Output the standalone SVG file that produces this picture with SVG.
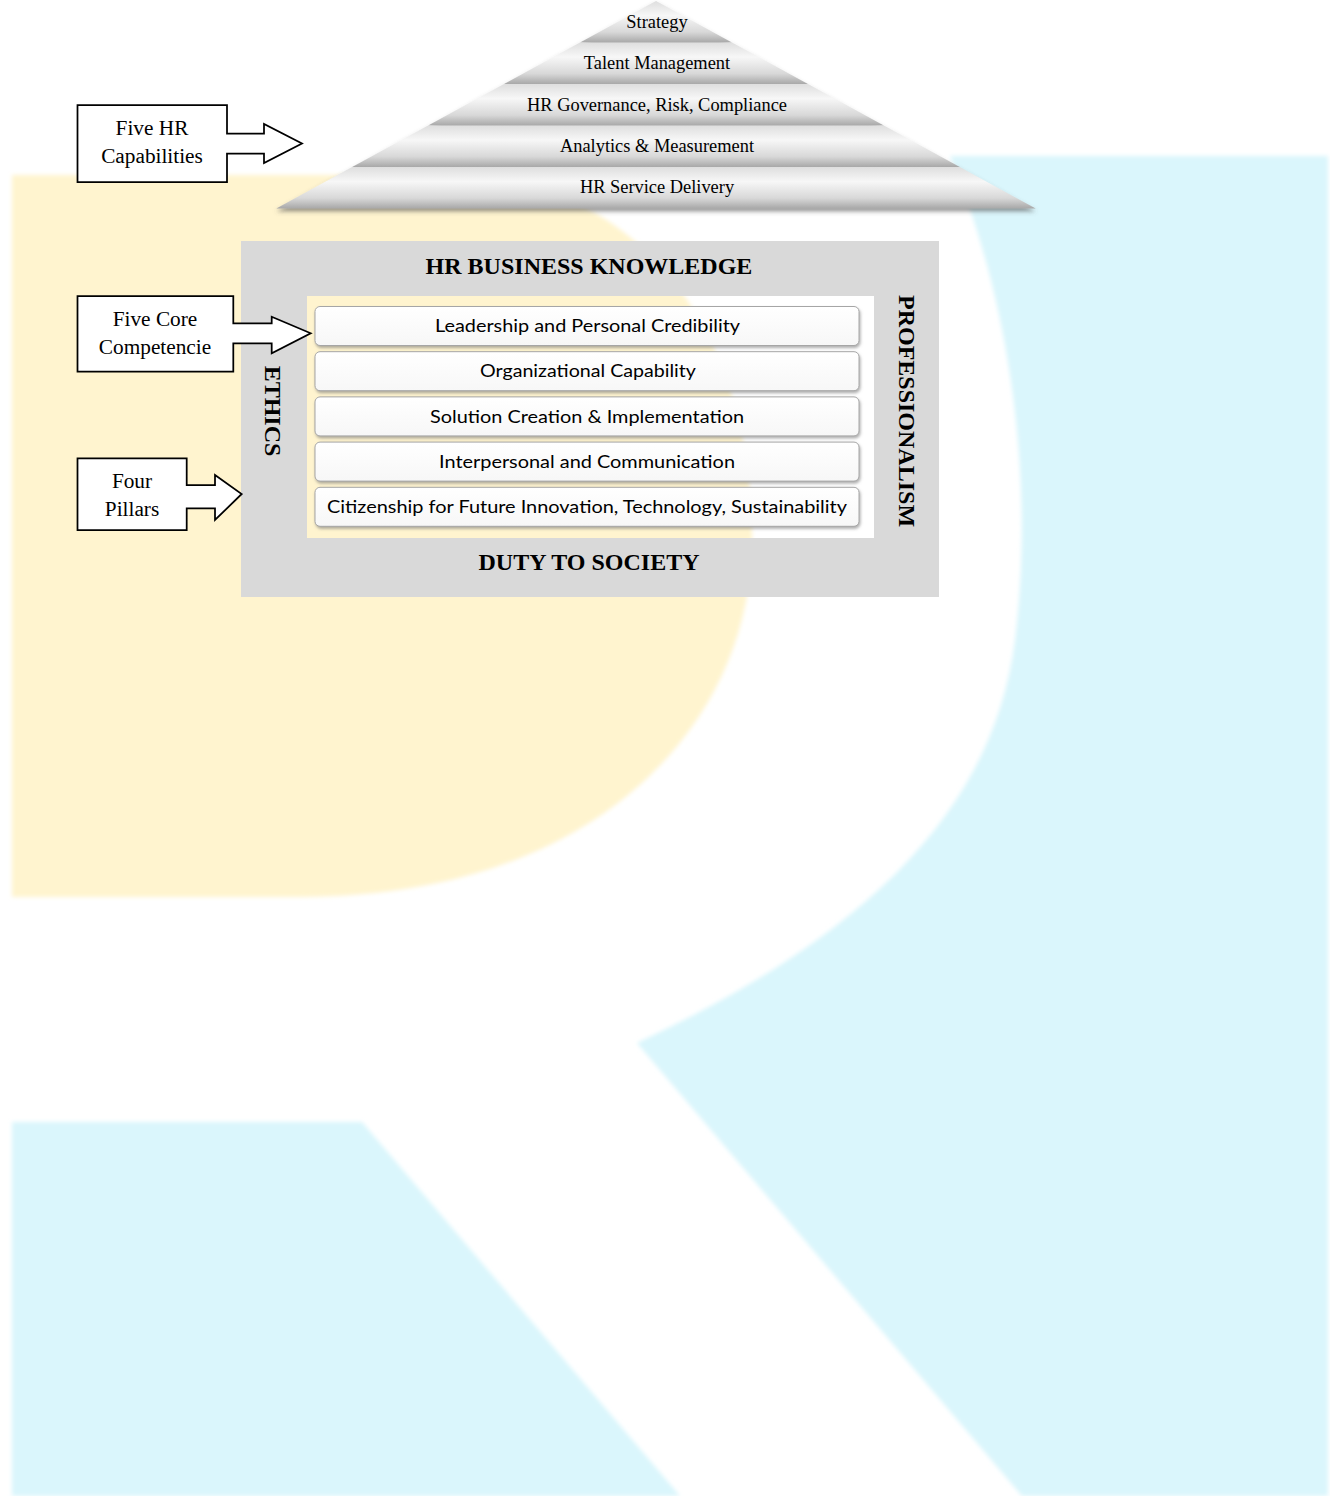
<svg xmlns="http://www.w3.org/2000/svg" width="1330" height="1496" viewBox="0 0 1330 1496">
  <style>
    .serif { font-family: "Liberation Serif", "Times New Roman", serif; fill: #000; }
    .pyr { font-size: 18.4px; text-anchor: middle; }
    .lbl { font-size: 21.3px; text-anchor: middle; }
    .bold { font-size: 24px; font-weight: bold; text-anchor: middle; }
    .row { font-family: Lato, "Open Sans", "Liberation Sans", sans-serif; font-size: 17.3px; text-anchor: middle; fill: #000; }
    .band { fill: url(#bandGrad); }
    .callout { fill: #fff; stroke: #000; stroke-width: 1.75; stroke-linejoin: miter; }
    .rowbox { fill: url(#rowGrad); stroke: #a6a6a6; stroke-width: 1; filter: url(#rowShadow); }
  </style>
  <defs>
    <linearGradient id="bandGrad" x1="0" y1="0" x2="0" y2="1">
      <stop offset="0" stop-color="#dedede"/>
      <stop offset="0.35" stop-color="#f7f7f7"/>
      <stop offset="0.75" stop-color="#d8d8d8"/>
      <stop offset="1" stop-color="#a8a8a8"/>
    </linearGradient>
    <linearGradient id="rowGrad" x1="0" y1="0" x2="0" y2="1">
      <stop offset="0" stop-color="#ffffff"/>
      <stop offset="1" stop-color="#f7f7f7"/>
    </linearGradient>
    <filter id="soft" x="-5%" y="-5%" width="110%" height="110%">
      <feGaussianBlur stdDeviation="2"/>
    </filter>
    <filter id="pyrShadow" x="-5%" y="-5%" width="110%" height="120%">
      <feDropShadow dx="0" dy="3" stdDeviation="2" flood-color="#555" flood-opacity="0.6"/>
    </filter>
    <filter id="rowShadow" x="-5%" y="-20%" width="110%" height="150%">
      <feDropShadow dx="1" dy="2" stdDeviation="1.5" flood-color="#777" flood-opacity="0.6"/>
    </filter>
  </defs>

  <rect x="0" y="0" width="1330" height="1496" fill="#ffffff"/>

  <!-- background watermark -->
  <g id="watermark" filter="url(#soft)">
    <path fill="#fff4cf" d="M12,175 H450 C640,178 752,330 752,540 C752,720 600,897 300,897 L12,897 Z"/>
    <path fill="#daf6fc" d="M950,156 H1328 V1496 H1022 L637,1043 C880,930 995,800 1015,640 C1035,480 1010,300 950,156 Z"/>
    <path fill="#daf6fc" d="M12,1122 H362 L680,1496 H12 Z"/>
  </g>

  <!-- pyramid of five HR capabilities -->
  <g id="pyramid">
    <g filter="url(#pyrShadow)">
      <polygon class="band" points="656,1 731.9,42.5 580.1,42.5"/>
      <polygon class="band" points="580.1,42.5 731.9,42.5 807.9,84 504.1,84"/>
      <polygon class="band" points="504.1,84 807.9,84 883.8,125.5 428.2,125.5"/>
      <polygon class="band" points="428.2,125.5 883.8,125.5 959.8,167 352.2,167"/>
      <polygon class="band" points="352.2,167 959.8,167 1035.7,208.5 276.3,208.5"/>
    </g>
    <text class="serif pyr" x="657" y="28.3">Strategy</text>
    <text class="serif pyr" x="657" y="69">Talent Management</text>
    <text class="serif pyr" x="657" y="111">HR Governance, Risk, Compliance</text>
    <text class="serif pyr" x="657" y="151.7">Analytics &amp; Measurement</text>
    <text class="serif pyr" x="657" y="193.3">HR Service Delivery</text>
  </g>

  <!-- four pillars frame -->
  <g id="pillars-frame">
    <path fill="#d9d9d9" fill-rule="evenodd" d="M241,241 H939 V597 H241 Z M307,296 V538 H874 V296 Z"/>
    <text class="serif bold" x="589" y="274.3">HR BUSINESS KNOWLEDGE</text>
    <text class="serif bold" x="589" y="570">DUTY TO SOCIETY</text>
    <text class="serif bold" transform="translate(265,411) rotate(90)" x="0" y="0">ETHICS</text>
    <text class="serif bold" transform="translate(899,411) rotate(90)" x="0" y="0">PROFESSIONALISM</text>
  </g>

  <!-- five core competencies -->
  <g id="comp-1">
    <rect class="rowbox" x="315" y="306.5" width="544" height="39" rx="5"/>
    <text class="row" x="587.5" y="332" textLength="305" lengthAdjust="spacingAndGlyphs">Leadership and Personal Credibility</text>
  </g>
  <g id="comp-2">
    <rect class="rowbox" x="315" y="351.7" width="544" height="39" rx="5"/>
    <text class="row" x="588" y="377.3" textLength="216" lengthAdjust="spacingAndGlyphs">Organizational Capability</text>
  </g>
  <g id="comp-3">
    <rect class="rowbox" x="315" y="396.9" width="544" height="39" rx="5"/>
    <text class="row" x="587" y="422.5" textLength="314" lengthAdjust="spacingAndGlyphs">Solution Creation &amp; Implementation</text>
  </g>
  <g id="comp-4">
    <rect class="rowbox" x="315" y="442.1" width="544" height="39" rx="5"/>
    <text class="row" x="587" y="467.7" textLength="296" lengthAdjust="spacingAndGlyphs">Interpersonal and Communication</text>
  </g>
  <g id="comp-5">
    <rect class="rowbox" x="315" y="487.3" width="544" height="39" rx="5"/>
    <text class="row" x="587" y="512.9" textLength="520" lengthAdjust="spacingAndGlyphs">Citizenship for Future Innovation, Technology, Sustainability</text>
  </g>

  <!-- callout labels -->
  <g id="callout-capabilities">
    <path class="callout" d="M77.5,105 H227 V133.5 H264 V124 L302,143.5 L264,163 V153.5 H227 V182 H77.5 Z"/>
    <text class="serif lbl" x="152" y="135">Five HR</text>
    <text class="serif lbl" x="152" y="162.7">Capabilities</text>
  </g>
  <g id="callout-competencies">
    <path class="callout" d="M77.5,296 H233.3 V323.3 H271.7 V316.7 L310.7,333.3 L271.7,353.3 V343.3 H233.3 V371.7 H77.5 Z"/>
    <text class="serif lbl" x="155" y="325.5">Five Core</text>
    <text class="serif lbl" x="155" y="353.5">Competencie</text>
  </g>
  <g id="callout-pillars">
    <path class="callout" d="M77.5,458.3 H186.7 V485 H215 V475 L241.7,494 L215,520 V508.3 H186.7 V530 H77.5 Z"/>
    <text class="serif lbl" x="132" y="488.3">Four</text>
    <text class="serif lbl" x="132" y="516">Pillars</text>
  </g>

  <g id="connectors"/>
</svg>
